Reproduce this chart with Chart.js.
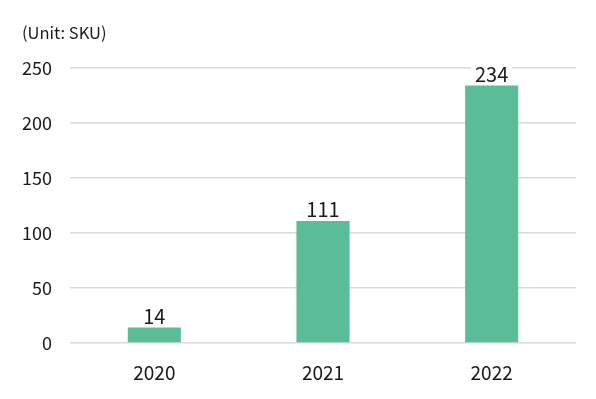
<!DOCTYPE html>
<html>
<head>
<meta charset="utf-8">
<script src="https://cdn.jsdelivr.net/npm/chart.js@4.4.0/dist/chart.umd.min.js"></script>
<style>
  html, body { margin: 0; padding: 0; background: #fff; }
  #wrap { width: 596px; height: 399px; position: relative; }
</style>
</head>
<body>
<div id="wrap"><canvas id="skuChart"></canvas></div>
<script>
const years = ['2020', '2021', '2022'];
const skuCounts = [14, 111, 234];
const unitLabel = '(Unit: SKU)';
const barColor = '#5bbd98';
const fontFamily = '"Noto Sans CJK JP", "Noto Sans", sans-serif';

// value labels above bars, with white box behind so gridlines break
const valueLabels = {
  id: 'valueLabels',
  afterDatasetsDraw(chart) {
    const ctx = chart.ctx;
    const meta = chart.getDatasetMeta(0);
    ctx.save();
    ctx.font = '20px ' + fontFamily;
    ctx.textAlign = 'center';
    ctx.textBaseline = 'bottom';
    meta.data.forEach((bar, i) => {
      const txt = String(skuCounts[i]);
      const w = ctx.measureText(txt).width;
      ctx.fillStyle = '#fff';
      ctx.fillRect(bar.x - w / 2 - 4, bar.y - 24, w + 8, 22);
      ctx.fillStyle = '#1a1a1a';
      ctx.fillText(txt, bar.x, bar.y - 1);
    });
    ctx.restore();
  }
};

const unitText = {
  id: 'unitText',
  afterDraw(chart) {
    const ctx = chart.ctx;
    ctx.save();
    ctx.font = '16.5px ' + fontFamily;
    ctx.fillStyle = '#1a1a1a';
    ctx.textAlign = 'left';
    ctx.textBaseline = 'middle';
    ctx.fillText(unitLabel, 22, 33);
    ctx.restore();
  }
};

new Chart(document.getElementById('skuChart'), {
  type: 'bar',
  data: {
    labels: years,
    datasets: [{
      data: skuCounts,
      backgroundColor: barColor,
      borderWidth: 0,
      barPercentage: 0.315,
      categoryPercentage: 1
    }]
  },
  options: {
    responsive: true,
    maintainAspectRatio: false,
    animation: false,
    layout: { padding: { top: 68, right: 20, left: 0, bottom: 0 } },
    plugins: { legend: { display: false }, tooltip: { enabled: false } },
    scales: {
      x: {
        grid: { display: false },
        border: { display: false },
        ticks: { color: '#1a1a1a', font: { family: fontFamily, size: 19 }, padding: 10 },
        afterFit(scale) { scale.height = 56; }
      },
      y: {
        min: 0,
        max: 250,
        ticks: { stepSize: 50, color: '#1a1a1a', font: { family: fontFamily, size: 18 }, padding: 18 },
        grid: { color: '#d9d9d9', lineWidth: 1.5, drawTicks: false },
        border: { display: false },
        afterFit(scale) { scale.width = 70; }
      }
    }
  },
  plugins: [valueLabels, unitText]
});
</script>
</body>
</html>
